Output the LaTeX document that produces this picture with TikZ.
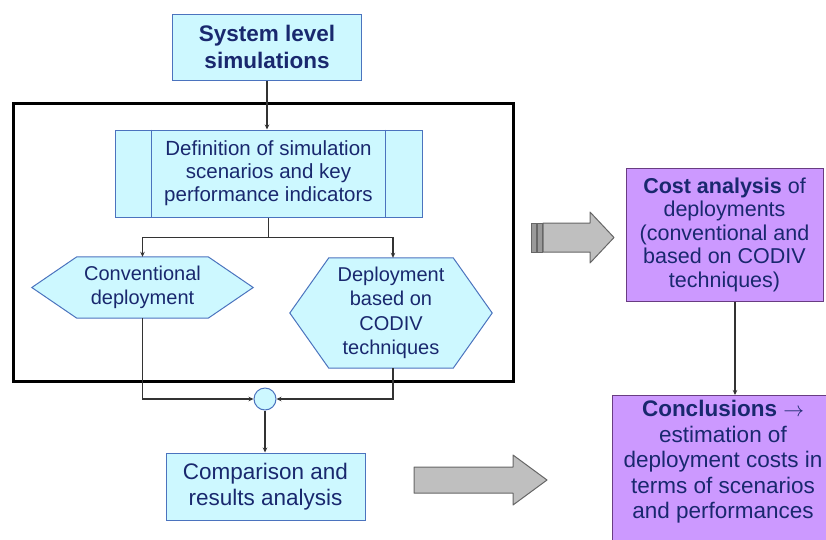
\documentclass[tikz,border=0pt]{standalone}
\usepackage{fontspec}
\setmainfont{Liberation Sans}
\usepackage{tikz}
\usetikzlibrary{arrows.meta,backgrounds}

\definecolor{boxcyan}{RGB}{205,248,255}
\definecolor{cyanline}{RGB}{75,115,190}
\definecolor{boxlila}{RGB}{204,153,255}
\definecolor{lilaline}{RGB}{105,60,130}
\definecolor{navytext}{RGB}{25,40,110}

\begin{document}
\begin{tikzpicture}[x=1pt,y=-1pt,
    cyanbox/.style={draw=cyanline,fill=boxcyan,line width=1pt,text=navytext,align=center,inner sep=0pt},
    lilabox/.style={draw=lilaline,fill=boxlila,line width=1pt,text=navytext,align=center,inner sep=0pt},
    hexnode/.style={text=navytext,align=center,inner sep=0pt,font=\fontsize{20}{24.5}\selectfont},
    hexline/.style={draw=cyanline,fill=boxcyan,line width=1pt},
    flow/.style={draw=black!80,line width=1.1pt,-{Stealth[length=5pt,width=4.5pt]}},
    blockarrow/.style={draw=black!60,fill=black!25,line width=1pt,line join=round},
    stripe/.style={draw=black!60,fill=black!40,line width=0.8pt}]

  \useasboundingbox (0,0) rectangle (826,539);

  \draw (267,47) node[cyanbox,minimum width=189pt,minimum height=66pt,font=\bfseries\fontsize{22.5}{27}\selectfont] (syslevel) {System level\\simulations};

  % container of the simulation part
  \draw[line width=3pt] (13,103) rectangle (513,381);

  \draw (268.5,173.5) node[cyanbox,minimum width=307pt,minimum height=87pt,font=\fontsize{20.5}{23}\selectfont] (defin) {Definition of simulation\\scenarios and key\\performance indicators};
    \draw[cyanline,line width=1pt] ([xshift=37pt]defin.north west) -- ([xshift=37pt]defin.south west);
    \draw[cyanline,line width=1pt] ([xshift=-37pt]defin.north east) -- ([xshift=-37pt]defin.south east);

  \draw (142.5,287.5) node[hexnode,minimum width=221pt,minimum height=61pt] (conv) {Conventional\\deployment};
  \draw (391,313) node[hexnode,minimum width=202pt,minimum height=110pt] (deploy) {Deployment\\based on\\CODIV\\techniques};
  \begin{scope}[on background layer]
    \draw[hexline] (conv.west) -- ([xshift=45pt]conv.north west) -- ([xshift=-45pt]conv.north east) -- (conv.east)
      -- ([xshift=-45pt]conv.south east) -- ([xshift=45pt]conv.south west) -- cycle;
    \draw[hexline] (deploy.west) -- ([xshift=39pt]deploy.north west) -- ([xshift=-39pt]deploy.north east) -- (deploy.east)
      -- ([xshift=-39pt]deploy.south east) -- ([xshift=39pt]deploy.south west) -- cycle;
  \end{scope}

  \draw (265,399) node[circle,draw=cyanline,fill=boxcyan,line width=1pt,minimum size=22pt,inner sep=0pt] (merge) {};
  \draw (265.5,486.5) node[cyanbox,minimum width=199pt,minimum height=67pt,font=\fontsize{22.5}{26}\selectfont] (compar) {Comparison and\\results analysis};

  \draw (724.5,234.5) node[lilabox,minimum width=197pt,minimum height=133pt,font=\fontsize{21.5}{23.5}\selectfont] (costan) {\textbf{Cost analysis} of\\deployments\\(conventional and\\based on CODIV\\techniques)};
  \draw (723,395) node[lilabox,anchor=north,minimum width=222pt,inner ysep=5pt,font=\fontsize{22.5}{25.5}\selectfont] (concl) {\textbf{Conclusions} $\rightarrow$\\estimation of\\deployment costs in\\terms of scenarios\\and performances\rule[-40pt]{0pt}{0pt}};

  \path (defin.south) ++(0,20) coordinate (fork);
  \draw[flow] (syslevel.south) -- (syslevel.south |- defin.north);
  \draw[flow] (defin.south) -- (fork) -| (conv.north);
  \draw[flow] (fork) -| ([xshift=2pt]deploy.north);
  \draw[flow] (conv.south) |- (merge.west);
  \draw[flow] ([xshift=2pt]deploy.south) |- (merge.east);
  \draw[flow] (merge.south) -- (merge.south |- compar.north);
  \draw[flow] ([xshift=10.5pt]costan.south) -- ([xshift=10.5pt]costan.south |- concl.north);

  % big grey arrows
  \draw[stripe] (531,223) rectangle (536,252);
  \draw[stripe] (537.5,223) rectangle (542,252);
  \draw[blockarrow] (543,223) -- (590,223) -- (590,212) -- (614,237.5) -- (590,263) -- (590,252) -- (543,252) -- cycle;
  \draw[blockarrow] (414,467) -- (513,467) -- (513,455) -- (547,480) -- (513,505) -- (513,493) -- (414,493) -- cycle;

\end{tikzpicture}
\end{document}
